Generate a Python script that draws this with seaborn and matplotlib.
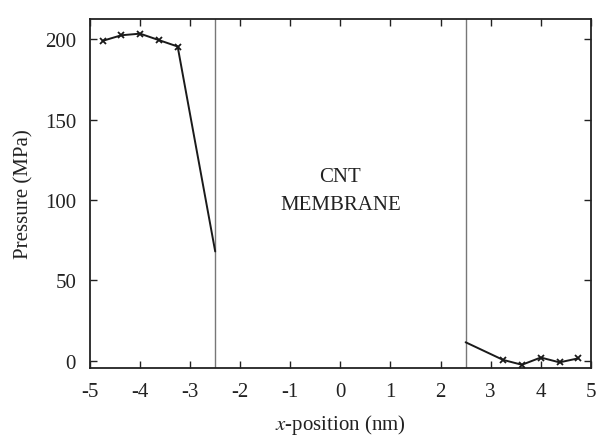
import numpy as np
import pandas as pd
import matplotlib
matplotlib.use("Agg")
import matplotlib.pyplot as plt
import seaborn as sns

sns.set_style("ticks")
plt.rcParams["font.family"] = ["Liberation Serif", "DejaVu Serif"]
plt.rcParams["mathtext.fontset"] = "stix"
plt.rcParams["axes.unicode_minus"] = False

# left reservoir (feed side), last point is the membrane wall
left_x = [-4.75, -4.375, -4.0, -3.625, -3.25, -2.5]
left_p = [199.0, 202.5, 203.5, 199.5, 195.5, 68.0]
# right reservoir (permeate side), first point is the membrane wall
right_x = [2.5, 3.25, 3.625, 4.0, 4.375, 4.75]
right_p = [11.5, 0.5, -2.5, 2.0, -1.0, 1.5]
membrane_edges = [-2.5, 2.5]

df_left = pd.DataFrame({"x": left_x, "p": left_p})
df_right = pd.DataFrame({"x": right_x, "p": right_p})

fig = plt.figure(figsize=(5.98, 4.39), dpi=100)
ax = fig.add_axes([0.1505, 0.1595, 0.8375, 0.7945])

for e in membrane_edges:
    ax.axvline(e, color="#777777", lw=1.0, zorder=1)

line_kw = dict(color="#1a1a1a", lw=1.4, marker="x", markersize=5,
               markeredgewidth=1.3, markeredgecolor="#1a1a1a", zorder=3)
sns.lineplot(data=df_left, x="x", y="p", ax=ax,
             markevery=list(range(len(left_x) - 1)), **line_kw)
sns.lineplot(data=df_right, x="x", y="p", ax=ax,
             markevery=list(range(1, len(right_x))), **line_kw)

ax.text(0, 106, "CNT\nMEMBRANE", ha="center", va="center", fontsize=15,
        color="#222222", linespacing=1.6)

ax.set_xlim(-5, 5)
ax.set_ylim(-4.5, 212.5)
ax.set_xticks(range(-5, 6))
ax.set_yticks([0, 50, 100, 150, 200])
ax.tick_params(direction="in", length=5, width=1, top=True, right=True,
               labelsize=15, colors="#222222", pad=10)
for s in ax.spines.values():
    s.set_linewidth(1.3)
    s.set_color("#222222")

ax.set_xlabel(r"$\mathit{x}$-position (nm)", fontsize=15, color="#222222", labelpad=8)
ax.set_ylabel("Pressure (MPa)", fontsize=15, color="#222222", labelpad=8)

fig.savefig("out.png", dpi=100)
